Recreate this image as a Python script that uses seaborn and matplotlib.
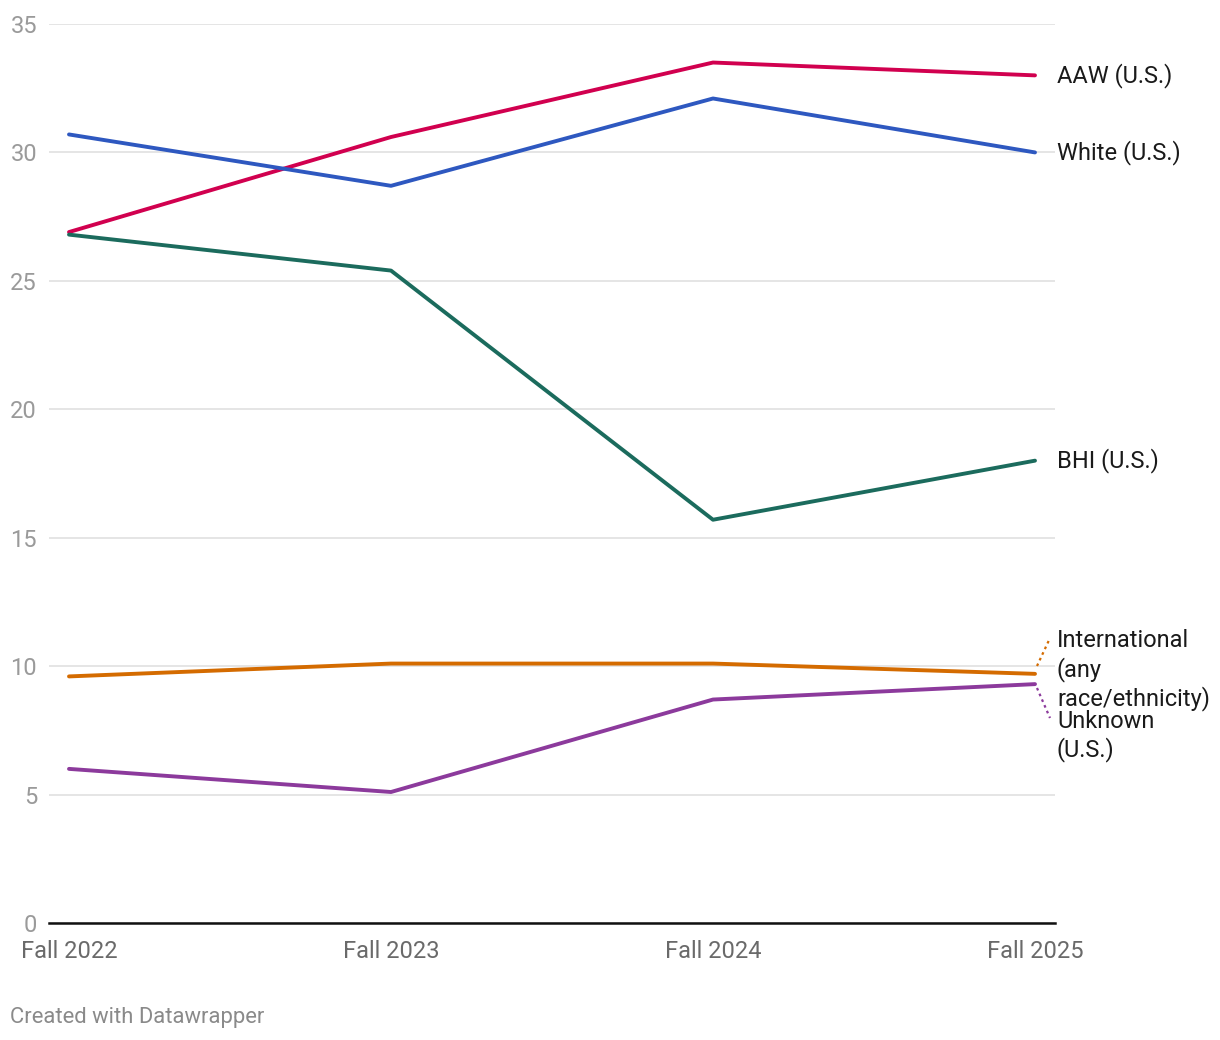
import matplotlib
matplotlib.use("Agg")
import matplotlib.pyplot as plt
import seaborn as sns
import pandas as pd
from matplotlib.transforms import blended_transform_factory

years = ["Fall 2022", "Fall 2023", "Fall 2024", "Fall 2025"]
aaw = [26.9, 30.6, 33.5, 33.0]
white = [30.7, 28.7, 32.1, 30.0]
bhi = [26.8, 25.4, 15.7, 18.0]
international = [9.6, 10.1, 10.1, 9.7]
unknown = [6.0, 5.1, 8.7, 9.3]

series_names = ["AAW (U.S.)", "White (U.S.)", "BHI (U.S.)",
                "International\n(any\nrace/ethnicity)", "Unknown\n(U.S.)"]
series_vals = [aaw, white, bhi, international, unknown]
colors = ["#d1004f", "#2e58c0", "#1b6b5d", "#d46b00", "#8c3a9c"]
y_ticks = [0, 5, 10, 15, 20, 25, 30, 35]

rows = []
for name, vals in zip(series_names, series_vals):
    for i, v in enumerate(vals):
        rows.append({"x": i, "year": years[i], "series": name, "value": v})
df = pd.DataFrame(rows)

sns.set_theme(style="white")
plt.rcParams["font.family"] = ["Roboto", "DejaVu Sans"]

FS = 17
fig = plt.figure(figsize=(12.2, 10.4), dpi=100)
ax = fig.add_axes([49/1220, 1-923/1040, (1055-49)/1220, (923-24)/1040])

sns.lineplot(data=df, x="x", y="value", hue="series", palette=dict(zip(series_names, colors)),
             linewidth=2.8, ax=ax, legend=False, zorder=3)

ax.set_xlim(-0.0621, 3.0621)
ax.set_ylim(0, 35)
ax.set_yticks(y_ticks)
ax.set_yticklabels([str(t) for t in y_ticks])
ax.set_xticks(range(len(years)))
ax.set_xticklabels(years)
ax.grid(axis="y", color="#e0e0e0", linewidth=1.2, zorder=0)
ax.grid(axis="x", visible=False)
for s in ["top", "right", "left"]:
    ax.spines[s].set_visible(False)
ax.spines["bottom"].set_color("#111111")
ax.spines["bottom"].set_linewidth(1.8)
ax.spines["bottom"].set_zorder(4)
ax.set_xlabel("")
ax.set_ylabel("")

ax.tick_params(axis="y", length=0, pad=8.6, labelsize=FS, labelcolor="#9a9a9a")
ax.tick_params(axis="x", length=0, pad=12.5, labelsize=FS, labelcolor="#6a6a6a")

lab_x = 1057/1220
def fy(py):
    return 1 - py/1040
bt = blended_transform_factory(fig.transFigure, ax.transData)
for name, vals in zip(series_names[:3], series_vals[:3]):
    ax.text(lab_x, vals[-1], name, transform=bt, ha="left", va="center",
            fontsize=FS, color="#1a1a1a")
fig.text(lab_x, fy(670), series_names[3], ha="left", va="center",
         fontsize=FS, color="#1a1a1a", linespacing=1.24)
fig.text(lab_x, fy(736), series_names[4], ha="left", va="center",
         fontsize=FS, color="#1a1a1a", linespacing=1.24)

fig.lines.append(plt.Line2D([1037/1220, 1050/1220], [fy(666), fy(638)], transform=fig.transFigure,
                            color=colors[3], linestyle=(0, (1.2, 1.6)), linewidth=1.6))
fig.lines.append(plt.Line2D([1037/1220, 1050/1220], [fy(688), fy(718)], transform=fig.transFigure,
                            color=colors[4], linestyle=(0, (1.2, 1.6)), linewidth=1.6))

fig.text(10/1220, fy(1017), "Created with Datawrapper", ha="left", va="center",
         fontsize=15.8, color="#8a8a8a")

fig.savefig("out.png", dpi=100)
